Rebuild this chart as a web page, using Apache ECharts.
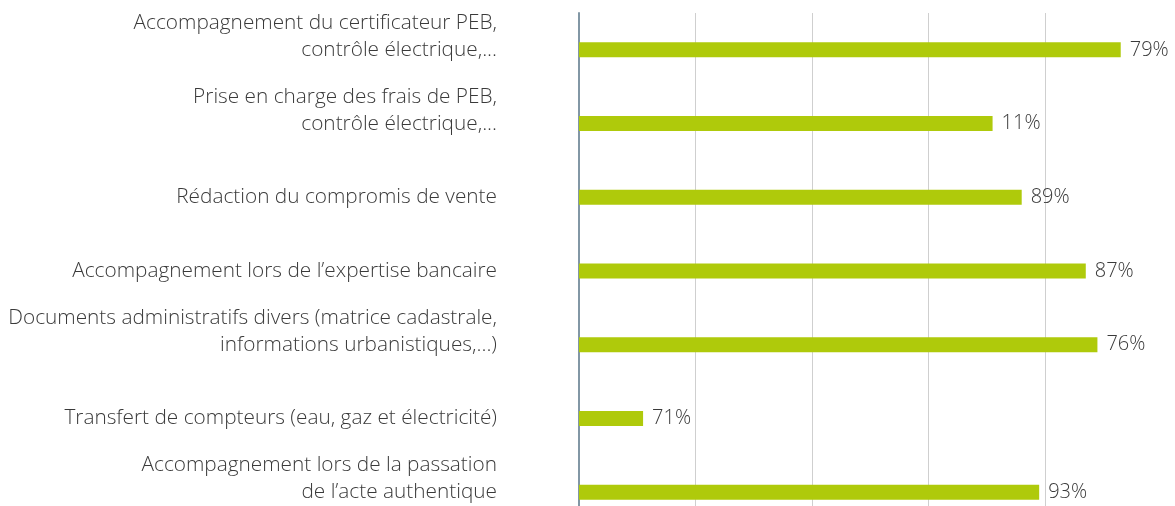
<html lang="fr">
<head>
	<meta charset="utf-8">
	<title>Services</title>
	<script src="https://cdn.jsdelivr.net/npm/echarts@6/dist/echarts.min.js"></script>
	<style>
		html, body { margin: 0; padding: 0; background: #fff; }
		#chart { width: 1175px; height: 506px; }
	</style>
</head>
<body>
	<div id="chart"></div>
	<script>
		// categories, top to bottom
		var categories = [
			"Accompagnement du certificateur PEB,\ncontrôle électrique,...",
			"Prise en charge des frais de PEB,\ncontrôle électrique,...",
			"Rédaction du compromis de vente",
			"Accompagnement lors de l\u2019expertise bancaire",
			"Documents administratifs divers (matrice cadastrale,\ninformations urbanistiques,...)",
			"Transfert de compteurs (eau, gaz et électricité)",
			"Accompagnement lors de la passation\nde l\u2019acte authentique"
		];
		// bar lengths (share, 0..1)
		var values = [0.93, 0.71, 0.76, 0.87, 0.89, 0.11, 0.79];
		// label texts as printed next to the bars
		var valueLabels = ["79%", "11%", "89%", "87%", "76%", "71%", "93%"];

		var chart = echarts.init(document.getElementById('chart'), null, { renderer: 'canvas' });
		chart.setOption({
			animation: false,
			// plot runs past the bottom edge of the picture
			grid: { left: 579, right: 13.5, top: 13, height: 516, containLabel: false, outerBoundsMode: 'none' },
			xAxis: {
				type: 'value',
				min: 0,
				max: 1,
				interval: 0.2,
				axisLine: { show: false },
				axisTick: { show: false },
				axisLabel: { show: false },
				splitLine: { show: true, showMinLine: false, showMaxLine: false, lineStyle: { color: '#cfcfcf', width: 1 } }
			},
			yAxis: {
				type: 'category',
				inverse: true,
				data: categories,
				axisLine: { show: true, lineStyle: { color: '#8297a5', width: 2 } },
				axisTick: { show: false },
				axisLabel: {
					interval: 0,
					showMinLabel: true,
					showMaxLabel: true,
					hideOverlap: false,
					margin: 82,
					color: '#3a3a3a',
					fontFamily: 'Open Sans',
					fontWeight: 300,
					fontSize: 20.8,
					lineHeight: 27,
					align: 'right',
					formatter: function (v) {
						// last line sits level with the bar
						return v.indexOf('\n') >= 0 ? v + '\n ' : v;
					}
				}
			},
			series: [{
				type: 'bar',
				data: values,
				barWidth: 15,
				itemStyle: { color: '#afca0b' },
				label: {
					show: true,
					position: 'right',
					distance: 9,
					color: '#3a3a3a',
					fontFamily: 'Open Sans',
					fontWeight: 300,
					fontSize: 20,
					formatter: function (p) { return valueLabels[p.dataIndex]; }
				}
			}]
		});
	</script>
</body>
</html>
